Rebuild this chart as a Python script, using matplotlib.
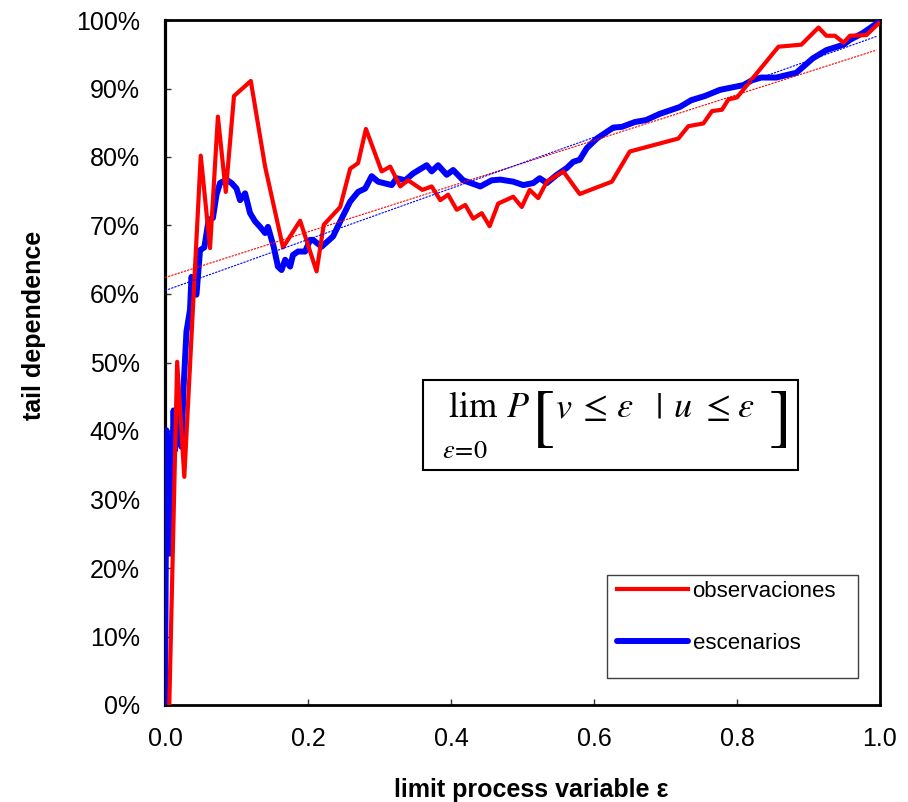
import matplotlib
matplotlib.use('Agg')
import matplotlib.pyplot as plt
from matplotlib.patches import Rectangle
from matplotlib.ticker import FuncFormatter

plt.rcParams['font.family'] = ['Liberation Sans', 'DejaVu Sans']
plt.rcParams['mathtext.fontset'] = 'stix'

# observaciones (red)
obs_x = [0.006, 0.017, 0.027, 0.05, 0.063, 0.074, 0.085, 0.0965, 0.12, 0.14,
         0.165, 0.189, 0.212, 0.222, 0.245, 0.259, 0.27, 0.281, 0.303, 0.315,
         0.329, 0.34, 0.36, 0.373, 0.385, 0.396, 0.408, 0.42, 0.431, 0.443,
         0.454, 0.466, 0.487, 0.499, 0.51, 0.522, 0.534, 0.557, 0.58, 0.625,
         0.65, 0.718, 0.732, 0.753, 0.765, 0.779, 0.788, 0.8, 0.858, 0.89,
         0.914, 0.925, 0.937, 0.949, 0.958, 0.981, 0.998]
obs_y = [0, 50.1, 33.3, 80.2, 66.7, 85.9, 74.9, 88.9, 91.1, 78.6,
         66.8, 70.7, 63.3, 70.1, 72.7, 78.3, 79.1, 84.1, 77.9, 78.6,
         75.7, 76.6, 75.2, 75.7, 73.7, 74.5, 72.3, 73.0, 71.0, 71.8,
         69.9, 73.2, 74.2, 72.7, 75.2, 74.0, 76.4, 77.9, 74.6, 76.4,
         80.8, 82.7, 84.5, 84.9, 86.7, 86.9, 88.4, 88.7, 96.1, 96.4,
         98.9, 97.7, 97.7, 96.7, 97.7, 97.8, 99.5]

# escenarios (blue)
esc_x = [0.0, 0.002, 0.007, 0.012, 0.014, 0.019, 0.023, 0.026, 0.03, 0.035,
         0.037, 0.044, 0.049, 0.055, 0.061, 0.067, 0.072, 0.077, 0.086, 0.093,
         0.1, 0.105, 0.112, 0.119, 0.126, 0.133, 0.14, 0.144, 0.152, 0.158,
         0.163, 0.168, 0.175, 0.179, 0.186, 0.196, 0.203, 0.207, 0.219, 0.235,
         0.247, 0.259, 0.27, 0.28, 0.289, 0.298, 0.317, 0.324, 0.336, 0.347,
         0.366, 0.373, 0.382, 0.394, 0.403, 0.417, 0.441, 0.457, 0.469, 0.487,
         0.501, 0.515, 0.524, 0.534, 0.548, 0.562, 0.571, 0.58, 0.59, 0.604,
         0.627, 0.639, 0.657, 0.673, 0.692, 0.72, 0.736, 0.755, 0.776, 0.795,
         0.809, 0.821, 0.834, 0.855, 0.883, 0.906, 0.925, 0.949, 0.958, 0.976,
         0.998]
esc_y = [0, 40.1, 22.1, 43.0, 37.2, 45.0, 37.7, 46.4, 54.5, 57.7,
         62.5, 59.9, 66.4, 66.8, 70.8, 71.1, 74.5, 76.2, 76.7, 76.2,
         75.4, 73.7, 74.7, 71.8, 70.6, 69.8, 68.9, 69.8, 66.9, 64.0,
         63.5, 65.0, 64.0, 65.7, 66.2, 66.2, 67.9, 67.9, 66.9, 68.4,
         71.0, 73.5, 74.9, 75.4, 77.2, 76.4, 75.9, 76.9, 76.6, 77.6,
         78.8, 77.9, 78.8, 77.4, 78.1, 76.6, 75.7, 76.6, 76.7, 76.4,
         75.9, 76.2, 76.9, 76.2, 77.4, 78.4, 79.3, 79.6, 81.3, 82.7,
         84.3, 84.4, 85.1, 85.4, 86.3, 87.3, 88.3, 88.9, 89.8, 90.2,
         90.5, 91.2, 91.6, 91.6, 92.3, 94.4, 95.6, 96.4, 97.1, 98.1,
         99.7]

# linear trend lines (endpoints)
trend_x = [0.0, 0.995]
obs_trend = [62.4, 95.6]
esc_trend = [60.5, 97.6]

x_ticks = [0.0, 0.2, 0.4, 0.6, 0.8, 1.0]
y_ticks = [0, 10, 20, 30, 40, 50, 60, 70, 80, 90, 100]

W, H = 908, 802
fig = plt.figure(figsize=(W / 100, H / 100), dpi=100)
ax = fig.add_axes([165 / W, 97 / H, 715 / W, 685 / H])

ax.plot(esc_x, esc_y, color='#0000ff', lw=4.3, solid_joinstyle='round',
        solid_capstyle='round', label='escenarios', zorder=3)
ax.plot(obs_x, obs_y, color='#ff0000', lw=3.0, solid_joinstyle='round',
        label='observaciones', zorder=4)
ax.plot(trend_x, obs_trend, color='#ff0000', lw=0.8, ls=(0, (2, 1)), zorder=5)
ax.plot(trend_x, esc_trend, color='#0000ff', lw=0.8, ls=(0, (2, 1)), zorder=5)

ax.set_xlim(0, 1)
ax.set_ylim(0, 100)
ax.set_xticks(x_ticks)
ax.set_yticks(y_ticks)
ax.xaxis.set_major_formatter(FuncFormatter(lambda v, p: '%.1f' % v))
ax.yaxis.set_major_formatter(FuncFormatter(lambda v, p: '%d%%' % v))
ax.tick_params(axis='both', direction='in', length=4.5, width=1,
               color='#333333', labelsize=18)
ax.tick_params(axis='y', pad=18)
ax.tick_params(axis='x', pad=16)
for s in ax.spines.values():
    s.set_linewidth(2)
ax.spines['left'].set_linewidth(2.3)

ax.set_xlabel('limit process variable ε', fontsize=18, fontweight='bold')
ax.set_ylabel('tail dependence', fontsize=18, fontweight='bold')
ax.xaxis.set_label_coords((531 - 165) / 715, (705 - 778) / 685)
ax.yaxis.set_label_coords((46 - 165) / 715, (705 - 325) / 685)

# legend with its own frame
ax.add_patch(Rectangle((0.618, 0.039), 0.351, 0.151, transform=ax.transAxes,
                       fill=True, facecolor='white', edgecolor='#404040',
                       lw=1.0, zorder=6))
h, l = ax.get_legend_handles_labels()
leg = ax.legend([h[1], h[0]], [l[1], l[0]], loc='upper left',
                bbox_to_anchor=((617 - 165) / 715, (705 - 581) / 685),
                frameon=False, fontsize=16, handlelength=3.2,
                handletextpad=0.2, labelspacing=1.4, borderpad=0,
                borderaxespad=0)
leg.set_zorder(7)

# formula box, symbols spaced as in the original
fig.patches.append(Rectangle((423 / W, 1 - 470 / H), 375 / W, 90 / H,
                             transform=fig.transFigure, fill=False,
                             edgecolor='black', lw=1.5))
formula_parts = [(r'$\mathrm{lim}$', 473), (r'$P$', 518), (r'$v$', 564),
                 (r'$\leq$', 592), (r'$\varepsilon$', 625), (r'$|$', 658),
                 (r'$u$', 683), (r'$\leq$', 715), (r'$\varepsilon$', 746)]
for s, px in formula_parts:
    fig.text(px / W, 1 - 417 / H, s, fontsize=26, va='baseline', ha='center')
fig.text(465 / W, 1 - 458 / H, r'$\varepsilon\!=\!0$', fontsize=19,
         va='baseline', ha='center')
fig.text(543 / W, 1 - 421 / H, '[', fontsize=50, family='STIXGeneral',
         va='center', ha='center')
fig.text(780 / W, 1 - 421 / H, ']', fontsize=50, family='STIXGeneral',
         va='center', ha='center')

fig.savefig('out.png', dpi=100)
